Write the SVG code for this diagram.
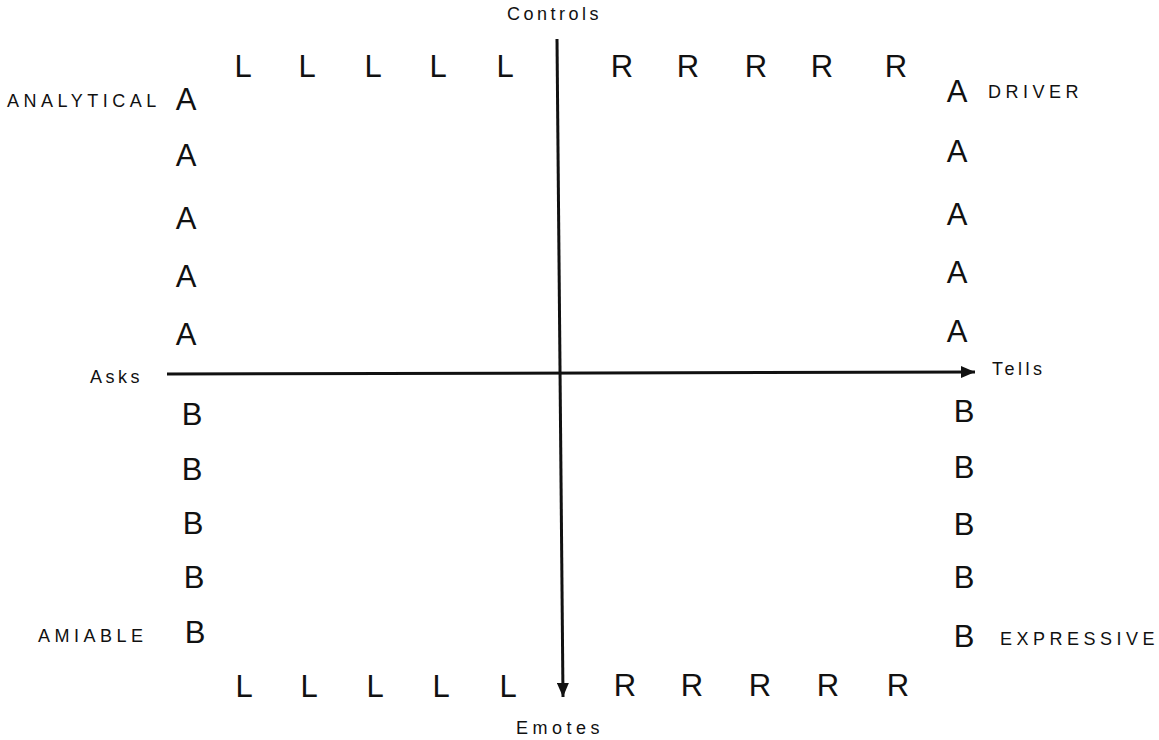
<svg xmlns="http://www.w3.org/2000/svg" width="1159" height="740" viewBox="0 0 1159 740">
<defs>
<style>
.l{font-family:"Liberation Sans",Arial,sans-serif;font-size:31px;fill:#111;text-anchor:middle}
.ax{font-family:"Liberation Sans",Arial,sans-serif;font-size:18px;fill:#111;letter-spacing:3.5px}
.cap{font-family:"Liberation Sans",Arial,sans-serif;font-size:18px;fill:#111;letter-spacing:4.5px}
.axis{stroke:#111;stroke-width:3;fill:none}
</style>
<marker id="ah" markerUnits="userSpaceOnUse" markerWidth="16" markerHeight="12" refX="14" refY="6" orient="auto">
<path d="M0,0 L14,6 L0,12 Z" fill="#111"/>
</marker>
</defs>
<g id="connectors">
<line class="axis" x1="167" y1="374" x2="975" y2="372" marker-end="url(#ah)"/>
<line class="axis" x1="557" y1="39" x2="563" y2="697" marker-end="url(#ah)" stroke-width="2.6"/>
</g>
<g id="axis-labels">
<text class="ax" x="507" y="20">Controls</text>
<text class="ax" x="516" y="734" style="letter-spacing:4.5px">Emotes</text>
<text class="ax" x="90" y="383">Asks</text>
<text class="ax" x="992" y="375">Tells</text>
</g>
<g id="analytical">
<text class="cap" x="7" y="107">ANALYTICAL</text>
<text class="l" x="186" y="110">A</text>
<text class="l" x="186" y="166">A</text>
<text class="l" x="186" y="229">A</text>
<text class="l" x="186" y="287">A</text>
<text class="l" x="186" y="345">A</text>
</g>
<g id="driver">
<text class="cap" x="988" y="98">DRIVER</text>
<text class="l" x="957" y="102">A</text>
<text class="l" x="957" y="162">A</text>
<text class="l" x="957" y="225">A</text>
<text class="l" x="957" y="283">A</text>
<text class="l" x="957" y="342">A</text>
</g>
<g id="amiable">
<text class="cap" x="38" y="642">AMIABLE</text>
<text class="l" x="192" y="425">B</text>
<text class="l" x="192" y="480">B</text>
<text class="l" x="193" y="534">B</text>
<text class="l" x="194" y="588">B</text>
<text class="l" x="195" y="643">B</text>
</g>
<g id="expressive">
<text class="cap" x="1000" y="645">EXPRESSIVE</text>
<text class="l" x="964" y="422">B</text>
<text class="l" x="964" y="478">B</text>
<text class="l" x="964" y="535">B</text>
<text class="l" x="964" y="588">B</text>
<text class="l" x="964" y="647">B</text>
</g>
<g id="top-row">
<text class="l" x="243" y="77">L</text>
<text class="l" x="307" y="77">L</text>
<text class="l" x="373" y="77">L</text>
<text class="l" x="438" y="77">L</text>
<text class="l" x="505" y="77">L</text>
<text class="l" x="622" y="77">R</text>
<text class="l" x="688" y="77">R</text>
<text class="l" x="756" y="77">R</text>
<text class="l" x="822" y="77">R</text>
<text class="l" x="896" y="77">R</text>
</g>
<g id="bottom-row">
<text class="l" x="244" y="697">L</text>
<text class="l" x="309" y="697">L</text>
<text class="l" x="375" y="697">L</text>
<text class="l" x="441" y="697">L</text>
<text class="l" x="508" y="697">L</text>
<text class="l" x="625" y="696">R</text>
<text class="l" x="692" y="696">R</text>
<text class="l" x="760" y="696">R</text>
<text class="l" x="828" y="696">R</text>
<text class="l" x="898" y="696">R</text>
</g>
</svg>
